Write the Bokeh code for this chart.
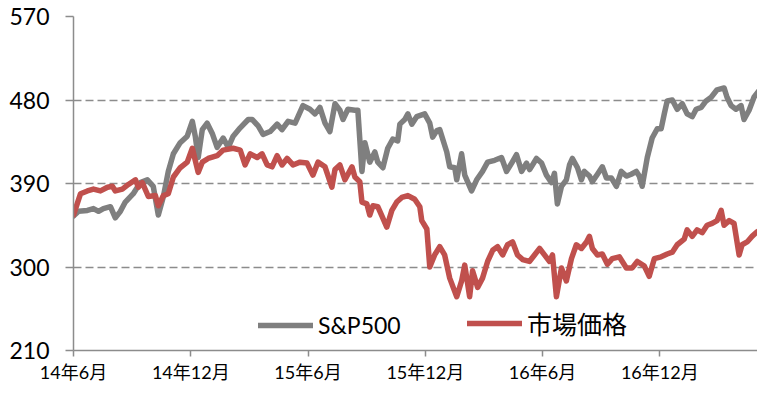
from bokeh.plotting import figure
from bokeh.models import Range1d, FixedTicker, Legend, LegendItem
from bokeh.embed import file_html
from bokeh.resources import INLINE

# x in months since June 2014
sp_x = [0.00, 0.26, 0.71, 1.02, 1.28, 1.53, 1.89, 2.14, 2.40, 2.65, 3.06, 3.42, 3.78, 4.08, 4.34, 4.60,
        4.85, 5.11, 5.46, 5.82, 6.08, 6.23, 6.38, 6.59, 6.84, 7.10, 7.35, 7.66, 7.92, 8.17, 8.53, 8.94,
        9.14, 9.45, 9.70, 10.06, 10.42, 10.67, 10.98, 11.34, 11.74, 12.10, 12.36, 12.61, 12.87, 13.12,
        13.38, 13.63, 13.79, 14.04, 14.40, 14.55, 14.76, 14.91, 15.16, 15.42, 15.57, 15.83, 16.08, 16.34,
        16.59, 16.70, 16.95, 17.11, 17.31, 17.56, 17.97, 18.23, 18.38, 18.59, 18.74, 19.10, 19.25, 19.51,
        19.61, 19.86, 20.02, 20.37, 20.63, 20.93, 21.19, 21.55, 21.90, 22.16, 22.42, 22.67, 22.93, 23.18,
        23.34, 23.69, 23.95, 24.20, 24.46, 24.61, 24.76, 24.97, 25.22, 25.38, 25.53, 25.79, 25.99, 26.14,
        26.40, 26.55, 26.81, 27.06, 27.27, 27.52, 27.78, 28.03, 28.29, 28.54, 28.80, 28.95, 29.10, 29.36,
        29.61, 29.87, 30.07, 30.23, 30.38, 30.64, 30.89, 31.15, 31.40, 31.66, 31.86, 32.12, 32.37, 32.63,
        32.93, 33.29, 33.44, 33.65, 33.90, 34.16, 34.31, 34.57, 34.82, 35.18, 35.44, 35.69]
sp_y = [355, 360, 361, 363, 360, 363, 365, 353, 360, 370, 379, 391, 394, 387, 356, 376,
        403, 422, 434, 441, 457, 441, 418, 448, 455, 444, 429, 439, 429, 441, 450, 459,
        459, 452, 443, 446, 454, 448, 457, 455, 474, 470, 465, 472, 455, 446,
        476, 469, 459, 470, 469, 469, 403, 434, 413, 424, 413, 407, 428, 438,
        436, 454, 459, 465, 454, 462, 465, 455, 440, 447, 448, 424, 408, 407,
        394, 422, 399, 382, 394, 403, 413, 415, 418, 403, 412, 421, 403, 412,
        405, 417, 412, 399, 391, 401, 368, 387, 394, 410, 417, 407, 394, 403,
        398, 392, 400, 408, 396, 396, 387, 403, 398, 400, 403, 398, 387, 418,
        439, 449, 449, 465, 479, 480, 470, 476, 465, 462, 470, 472, 479, 483,
        491, 493, 483, 474, 470, 474, 459, 469, 483, 493, 472, 488]

mp_x = [0.00, 0.36, 0.71, 1.02, 1.38, 1.74, 1.99, 2.14, 2.50, 2.81, 3.17, 3.32, 3.52, 3.83, 4.19, 4.34,
        4.60, 4.85, 5.11, 5.46, 5.82, 6.08, 6.23, 6.38, 6.59, 6.89, 7.35, 7.66, 8.17, 8.53, 8.78, 9.04,
        9.40, 9.65, 9.91, 10.16, 10.42, 10.67, 10.93, 11.23, 11.59, 11.95, 12.25, 12.51, 12.87, 13.22,
        13.38, 13.63, 13.89, 14.25, 14.40, 14.65, 14.76, 15.01, 15.16, 15.32, 15.57, 15.78, 16.03, 16.29,
        16.54, 16.80, 17.11, 17.46, 17.72, 17.82, 18.08, 18.23, 18.48, 18.74, 18.99, 19.25, 19.61, 19.86,
        20.02, 20.27, 20.42, 20.68, 20.93, 21.19, 21.45, 21.70, 21.96, 22.21, 22.47, 22.72, 22.98, 23.33,
        23.59, 23.85, 24.10, 24.36, 24.51, 24.71, 24.97, 25.22, 25.48, 25.73, 25.99, 26.25, 26.40, 26.55,
        26.81, 27.06, 27.32, 27.57, 27.93, 28.29, 28.59, 28.85, 29.21, 29.46, 29.72, 30.07, 30.38, 30.64,
        30.89, 31.25, 31.40, 31.66, 31.91, 32.17, 32.42, 32.68, 32.93, 33.14, 33.29, 33.55, 33.80, 34.06,
        34.21, 34.47, 34.72, 34.98, 35.23, 35.49, 35.69]
mp_y = [356, 379, 382, 384, 382, 386, 387, 382, 384, 389, 394, 386, 391, 376, 377, 366,
        377, 379, 397, 407, 413, 428, 415, 402, 413, 417, 420, 426, 428, 426, 410, 422,
        418, 422, 410, 408, 420, 410, 417, 410, 413, 412, 399, 413, 408, 386,
        405, 410, 394, 408, 397, 392, 370, 368, 356, 366, 365, 355, 343, 361,
        370, 375, 377, 373, 365, 350, 341, 300, 313, 322, 313, 288, 268, 285,
        302, 268, 296, 278, 288, 306, 318, 322, 313, 324, 327, 313, 308, 306,
        313, 320, 313, 306, 313, 268, 299, 285, 309, 324, 320, 327, 333, 320,
        313, 314, 303, 309, 311, 299, 299, 306, 301, 290, 309, 311, 314, 316,
        324, 330, 340, 333, 340, 337, 345, 347, 350, 361, 345, 350, 347, 313,
        324, 327, 333, 338, 340, 345, 350]

tick_pos = [0, 6, 12, 18, 24, 30]
tick_labels = ["14年6月", "14年12月", "15年6月", "15年12月", "16年6月", "16年12月"]
y_ticks = [210, 300, 390, 480, 570]

GRAY = "#7f7f7f"
RED = "#c0504d"
AXIS = "#8c8c8c"
NUM_FONT = "Lato, 'Noto Sans CJK JP'"
CJK_FONT = "'Noto Sans CJK JP'"

p = figure(width=757, height=385, output_backend="svg", toolbar_location=None,
           x_range=Range1d(0, 35.0), y_range=Range1d(210, 570),
           min_border_left=73, min_border_right=0, min_border_top=16, min_border_bottom=30)
p.outline_line_color = None
p.background_fill_color = "white"

r1 = p.line(sp_x, sp_y, line_color=GRAY, line_width=5.5, line_join="round", line_cap="round")
r2 = p.line(mp_x, mp_y, line_color=RED, line_width=5.5, line_join="round", line_cap="round")

p.xgrid.grid_line_color = None
p.ygrid.ticker = FixedTicker(ticks=[300, 390, 480, 570])
p.ygrid.grid_line_color = AXIS
p.ygrid.grid_line_width = 1.5
p.ygrid.grid_line_dash = "8 4"

p.xaxis.ticker = FixedTicker(ticks=tick_pos)
p.xaxis.major_label_overrides = {t: l for t, l in zip(tick_pos, tick_labels)}
p.yaxis.ticker = FixedTicker(ticks=y_ticks)

for ax in (p.xaxis[0], p.yaxis[0]):
    ax.axis_line_color = AXIS
    ax.axis_line_width = 1.5
    ax.major_tick_line_color = AXIS
    ax.major_tick_line_width = 1.5
    ax.major_tick_in = 0
    ax.minor_tick_line_color = None
    ax.major_label_text_color = "#000000"
    ax.major_label_text_font = NUM_FONT

p.xaxis.major_tick_out = 6
p.yaxis.major_tick_out = 8
p.xaxis.major_label_text_font_size = "18px"
p.xaxis.major_label_standoff = 4
p.yaxis.major_label_text_font_size = "23px"
p.yaxis.major_label_standoff = 16

common = dict(orientation="horizontal", glyph_width=55, label_standoff=5, padding=0, margin=0,
              border_line_alpha=0, background_fill_alpha=0, label_text_color="#000000")
leg1 = Legend(items=[LegendItem(label="S&P500", renderers=[r1])], location=(185, 11),
              label_text_font=NUM_FONT, label_text_font_size="23px", **common)
leg2 = Legend(items=[LegendItem(label="市場価格", renderers=[r2])], location=(394, 9),
              label_text_font=CJK_FONT, label_text_font_size="25px", **common)
p.add_layout(leg1)
p.add_layout(leg2)

open("out.html", "w").write(file_html(p, INLINE))
